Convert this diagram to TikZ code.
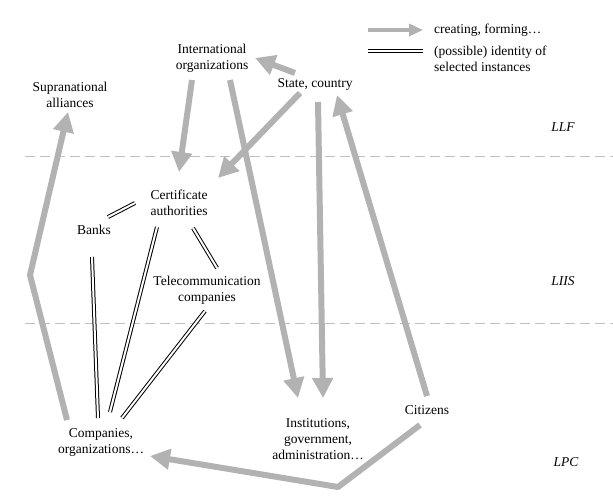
\documentclass[tikz,border=0pt]{standalone}
\usepackage{fontspec}
\setmainfont{Liberation Serif}
\usetikzlibrary{arrows.meta}
\definecolor{flowgray}{RGB}{178,178,178}
\definecolor{levelgray}{RGB}{192,192,192}

\begin{document}
\begin{tikzpicture}[x=1pt,y=-1pt,
	every node/.style={align=center,inner sep=0pt,font=\fontsize{13.5}{16}\selectfont},
	creates/.style={color=flowgray,line width=6pt,-{Triangle[length=20pt,width=20pt]}},
	ident/.style={draw=black,double=white,double distance=2pt,line width=1pt},
	levelcut/.style={draw=levelgray,dash pattern=on 10pt off 5pt,line width=1pt},
	levelname/.style={font=\fontsize{13.5}{16}\selectfont\itshape}]

\useasboundingbox (0,0) rectangle (613,501);

% levels
\draw[levelcut] (25,156.5) -- (613,156.5);
\draw[levelcut] (25,323.5) -- (613,323.5);
\node[levelname] (llf)  at (563,127) {LLF};
\node[levelname] (liis) at (563,281) {LIIS};
\node[levelname] (lpc)  at (566,462) {LPC};

% actors
\node (intl)  at (212,58)  {International\\organizations};
\node (supra) at (70,95)   {Supranational\\alliances};
\node (state) at (315,84)  {State, country};
\node (cert)  at (179,203) {Certificate\\authorities};
\node (banks) at (94,230)  {Banks};
\node (tele)  at (207,290) {Telecommunication\\companies};
\node (comp)  at (101,442) {Companies,\\organizations\dots};
\node (inst)  at (318,439) {Institutions,\\government,\\administration\dots};
\node (citz)  at (427,410) {Citizens};

% key
\coordinate (keyA1) at (368,30);
\coordinate (keyA2) at (423,30);
\coordinate (keyB1) at (368,51);
\coordinate (keyB2) at (423,51);
\node[anchor=west] (keyA) at (434,30) {creating, forming\dots};
\node[anchor=west,align=left] (keyB) at (434,59) {(possible) identity of\\selected instances};
\draw[color=flowgray,line width=4pt,-{Triangle[length=14pt,width=12pt]}] (keyA1) -- (keyA2);
\draw[ident] (keyB1) -- (keyB2);

% creating, forming
\path[creates] ([shift={(-20,-11)}]state.center) edge ([shift={(43,0)}]intl.center)
	([shift={(-20,22)}]intl.center) edge ([shift={(0,-31)}]cert.center)
	([shift={(-15,9)}]state.center) edge ([shift={(39,-25)}]cert.center)
	([shift={(18,22)}]intl.center) edge ([shift={(-20,-41)}]inst.center)
	([shift={(3,18)}]state.center) edge ([shift={(5,-41)}]inst.center)
	([shift={(0,-14)}]citz.center) edge ([shift={(22,11)}]state.center);

\coordinate (bendC) at (338,487);
\coordinate (bendS) at (30,275);
\draw[creates,line join=round] ([shift={(-7,15)}]citz.center) -- (bendC) -- ([shift={(49,14)}]comp.center);
\draw[creates,line join=round] ([shift={(-34,-22)}]comp.center) -- (bendS) -- ([shift={(-2,17)}]supra.center);

% identity
\path ([shift={(14,-13)}]banks.center) edge[ident] ([shift={(-44,0)}]cert.center)
	([shift={(-22,24)}]cert.center) edge[ident] ([shift={(9,-30)}]comp.center)
	([shift={(14,25)}]cert.center) edge[ident] ([shift={(10,-22)}]tele.center)
	([shift={(-2,21)}]tele.center) edge[ident] ([shift={(21,-24)}]comp.center)
	([shift={(-2,27)}]banks.center) edge[ident] ([shift={(-3,-24)}]comp.center);

\end{tikzpicture}
\end{document}
